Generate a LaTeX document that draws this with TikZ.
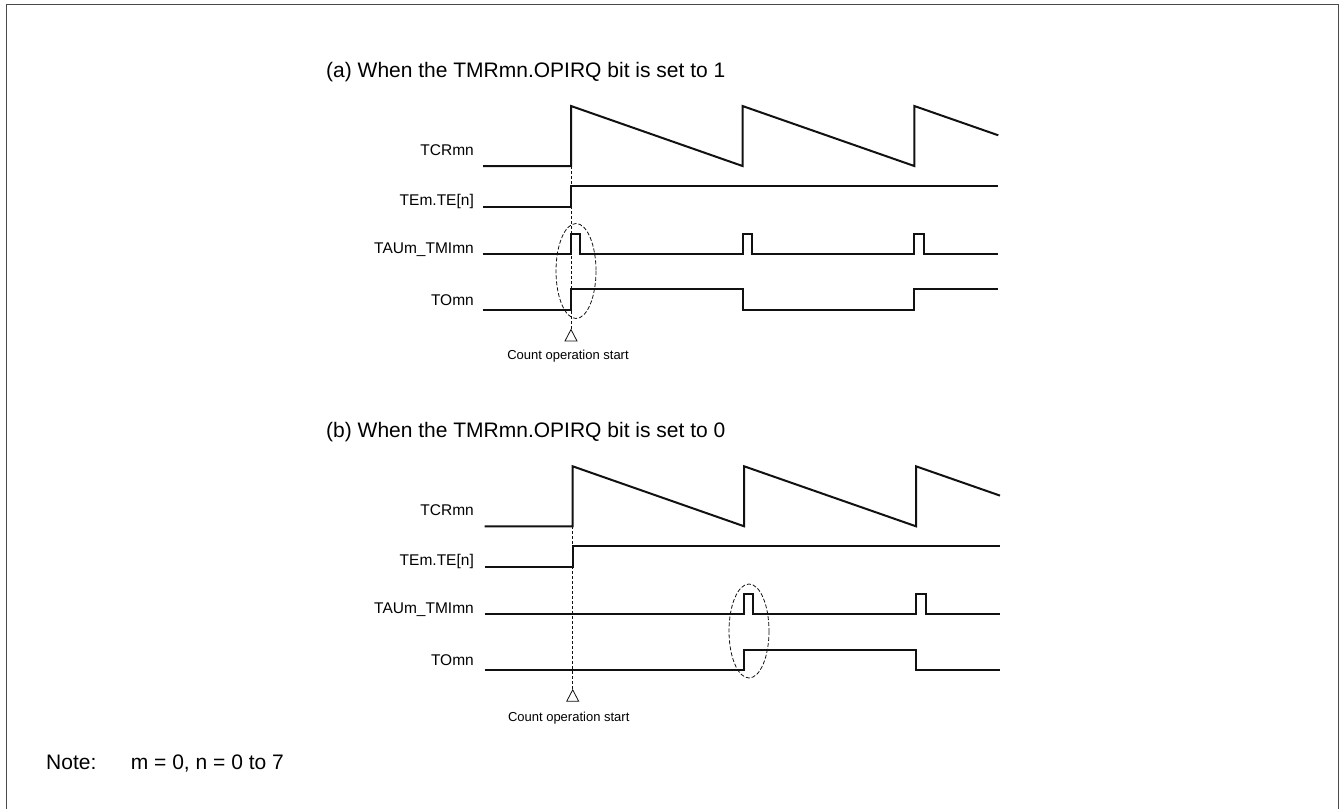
\documentclass[tikz,border=0pt]{standalone}
\usepackage{fontspec}
\setmainfont{Liberation Sans}
\usepackage{tikz}
\usetikzlibrary{positioning,calc}
\definecolor{FrameGray}{HTML}{4A4A4A}
\definecolor{WaveBlack}{HTML}{111111}

\begin{document}
\begin{tikzpicture}[x=1pt, y=-1pt,
    sig/.style={draw=WaveBlack, line width=2pt, line join=miter},
    guide/.style={draw=WaveBlack, line width=0.8pt, dash pattern=on 3pt off 2pt},
    ring/.style={draw=WaveBlack, line width=0.8pt, dash pattern=on 4pt off 2pt},
    trig/.style={draw=WaveBlack, line width=0.8pt, line join=miter},
    lbl/.style={anchor=base east, inner sep=0pt, font=\fontsize{15.5}{18}\selectfont},
    ttl/.style={anchor=base west, inner sep=0pt, font=\fontsize{21}{25}\selectfont},
    startcap/.style={anchor=base, inner sep=0pt, font=\fontsize{13}{15}\selectfont},
  ]
  \useasboundingbox (0,0) rectangle (1341,809);
  \draw[FrameGray, line width=1.5pt] (6.5,809) -- (6.5,4.5) -- (1338.5,4.5) -- (1338.5,809);

  % (a) OPIRQ = 1
  \node[ttl] (ttla) at (326,77) {(a) When the TMRmn.OPIRQ bit is set to 1};
  \node[lbl] (tcra) at (474,155) {TCRmn};
  \node[lbl] (tea)  at (474,205) {TEm.TE[n]};
  \node[lbl] (tmia) at (474,253) {TAUm\_TMImn};
  \node[lbl] (toa)  at (474,305) {TOmn};
  \coordinate (sta) at (571,166);
  \coordinate (tpa) at (571,329.5);
  \draw[sig] (483,166) -- (sta) -- (571,106) -- (742.5,166) -- (742.5,106)
             -- (914.3,166) -- (914.3,106) -- (998.3,135.3);
  \draw[sig] (483,206.7) -- (571,206.7) -- (571,186) -- (998.3,186);
  \draw[sig] (483,254) -- (571,254) -- (571,233.5) -- (580,233.5) -- (580,254)
             -- (742.5,254) -- (742.5,233.5) -- (751.7,233.5) -- (751.7,254)
             -- (914.3,254) -- (914.3,233.5) -- (924,233.5) -- (924,254) -- (998.3,254);
  \draw[sig] (483,310) -- (571,310) -- (571,289.3) -- (742.5,289.3) -- (742.5,310)
             -- (914.3,310) -- (914.3,289.3) -- (998.3,289.3);
  \draw[guide] (sta) -- (tpa);
  \draw[trig] (tpa) -- (577,341) -- (565,341) -- cycle;
  \node[startcap] (csa) at (568,359) {Count operation start};
  \draw[ring] (576,271) ellipse [x radius=20, y radius=47.5];

  % (b) OPIRQ = 0
  \node[ttl] (ttlb) at (326,437) {(b) When the TMRmn.OPIRQ bit is set to 0};
  \node[lbl] (tcrb) at (474,515) {TCRmn};
  \node[lbl] (teb)  at (474,565) {TEm.TE[n]};
  \node[lbl] (tmib) at (474,613) {TAUm\_TMImn};
  \node[lbl] (tob)  at (474,665) {TOmn};
  \begin{scope}[shift={(1.7,360.3)}]
    \coordinate (stb) at (571,166);
    \coordinate (tpb) at (571,329.5);
    \draw[sig] (483,166) -- (stb) -- (571,106) -- (742.5,166) -- (742.5,106)
               -- (914.3,166) -- (914.3,106) -- (998.3,135.3);
    \draw[sig] (483,206.7) -- (571,206.7) -- (571,186) -- (998.3,186);
    \draw[sig] (483,254) -- (742.5,254) -- (742.5,233.5) -- (751.7,233.5) -- (751.7,254)
               -- (914.3,254) -- (914.3,233.5) -- (924,233.5) -- (924,254) -- (998.3,254);
    \draw[sig] (483,310) -- (742.5,310) -- (742.5,289.3) -- (914.3,289.3) -- (914.3,310)
               -- (998.3,310);
    \draw[guide] (stb) -- (tpb);
    \draw[trig] (tpb) -- (577,341) -- (565,341) -- cycle;
    \node[startcap] (csb) at (567,361.5) {Count operation start};
    \draw[ring] (747.3,270.7) ellipse [x radius=20, y radius=47];
  \end{scope}

  % note
  \node[ttl] (note) at (46,769.5) {Note:};
  \node[ttl] (notetxt) at (130.7,769.5) {m = 0, n = 0 to 7};
\end{tikzpicture}
\end{document}
